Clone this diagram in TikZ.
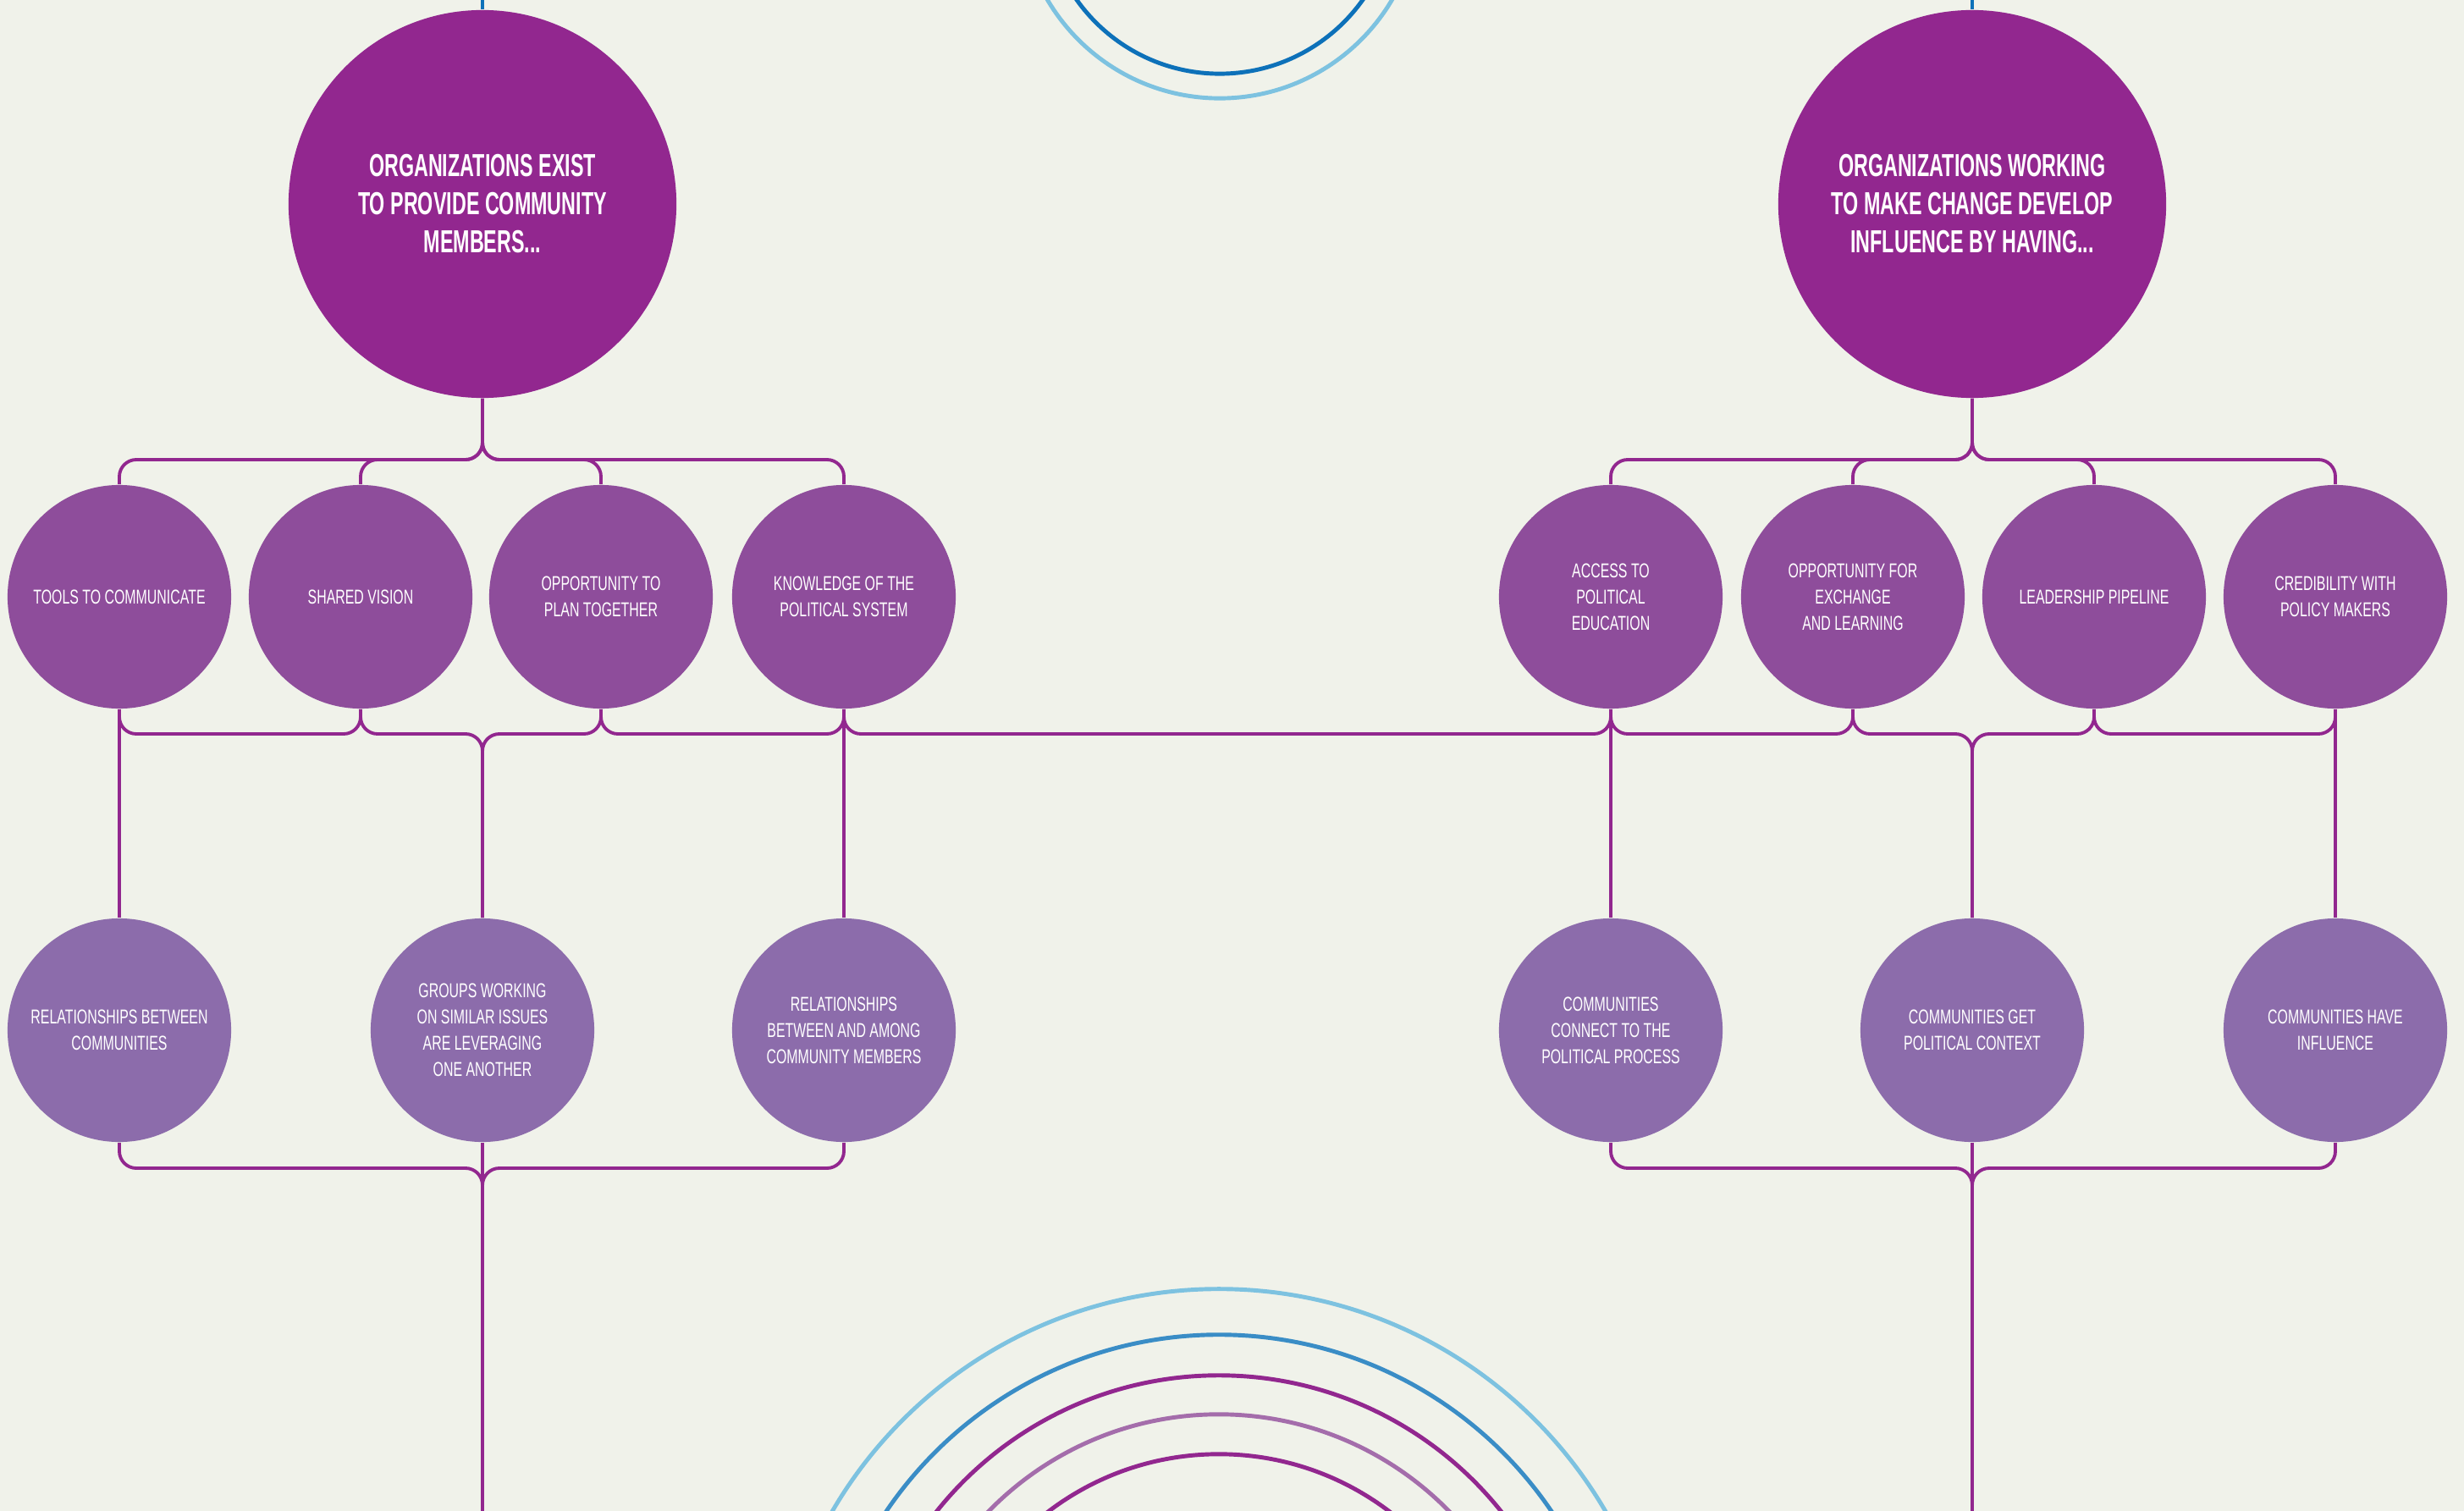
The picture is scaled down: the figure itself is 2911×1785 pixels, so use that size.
\documentclass[tikz,border=0pt]{standalone}
\usepackage{fontspec}
\setmainfont{Liberation Sans}
\newfontfamily\headfont[FakeStretch=0.62]{Liberation Sans}
\newfontfamily\itemfont[FakeStretch=0.67]{Liberation Sans}
\definecolor{paper}{HTML}{F0F2EA}
\definecolor{plum}{HTML}{92278F}
\definecolor{orchid}{HTML}{8E4D9B}
\definecolor{lavender}{HTML}{8C6CAB}
\definecolor{lilac}{HTML}{A46DAB}
\definecolor{skyblue}{HTML}{7DC2E0}
\definecolor{midblue}{HTML}{3A8DC6}
\definecolor{deepblue}{HTML}{0D71B9}
\tikzset{
	circnode/.style = {circle, align=center, inner sep=0pt, text=white},
	bignode/.style = {circnode, fill=plum, minimum size=4.58cm, 
		font=\headfont\bfseries\fontsize{10.7}{12.8}\selectfont},
	topicnode/.style = {circnode, fill=orchid, minimum size=2.64cm, 
		font=\itemfont\fontsize{6.75}{8.8}\selectfont},
	resultnode/.style = {circnode, fill=lavender, minimum size=2.64cm, 
		font=\itemfont\fontsize{6.75}{8.8}\selectfont},
	link/.style = {draw=plum, line width=1.1pt, rounded corners=0.2cm},
	ring/.style = {line width=1.4pt}
}

\begin{document}
\begin{tikzpicture}[x=0.01cm, y=-0.01cm]
\useasboundingbox (0,0) rectangle (2911,1785);
\fill[paper] (0,0) rectangle (2911,1785);
%----------------- Rings --------------
\begin{scope}
	\clip (0,0) rectangle (2911,1785);
	\draw[ring, skyblue] (1441,-120) circle [radius=2.36cm];
	\draw[ring, deepblue] (1441,-120) circle [radius=2.07cm];
	\draw[ring, skyblue] (1440,2051) circle [radius=5.28cm];
	\draw[ring, midblue] (1440,2051) circle [radius=4.74cm];
	\draw[ring, plum] (1440,2051) circle [radius=4.26cm];
	\draw[ring, lilac] (1440,2051) circle [radius=3.80cm];
	\draw[ring, plum] (1440,2051) circle [radius=3.33cm];
\end{scope}
%----------------- Nodes --------------
\node (L0) [bignode] at (570,241) {ORGANIZATIONS EXIST\\TO PROVIDE COMMUNITY\\MEMBERS...};
\node (R0) [bignode] at (2330,241) {ORGANIZATIONS WORKING\\TO MAKE CHANGE DEVELOP\\INFLUENCE BY HAVING...};

\node (A1) [topicnode] at (141,705) {TOOLS TO COMMUNICATE};
\node (A2) [topicnode] at (426,705) {SHARED VISION};
\node (A3) [topicnode] at (710,705) {OPPORTUNITY TO\\PLAN TOGETHER};
\node (A4) [topicnode] at (997,705) {KNOWLEDGE OF THE\\POLITICAL SYSTEM};
\node (C1) [topicnode] at (1903,705) {ACCESS TO\\POLITICAL\\EDUCATION};
\node (C2) [topicnode] at (2189,705) {OPPORTUNITY FOR\\EXCHANGE\\AND LEARNING};
\node (C3) [topicnode] at (2474,705) {LEADERSHIP PIPELINE};
\node (C4) [topicnode] at (2759,705) {CREDIBILITY WITH\\POLICY MAKERS};

\node (B1) [resultnode] at (141,1217) {RELATIONSHIPS BETWEEN\\COMMUNITIES};
\node (B2) [resultnode] at (570,1217) {GROUPS WORKING\\ON SIMILAR ISSUES\\ARE LEVERAGING\\ONE ANOTHER};
\node (B3) [resultnode] at (997,1217) {RELATIONSHIPS\\BETWEEN AND AMONG\\COMMUNITY MEMBERS};
\node (D1) [resultnode] at (1903,1217) {COMMUNITIES\\CONNECT TO THE\\POLITICAL PROCESS};
\node (D2) [resultnode] at (2330,1217) {COMMUNITIES GET\\POLITICAL CONTEXT};
\node (D3) [resultnode] at (2759,1217) {COMMUNITIES HAVE\\INFLUENCE};

\coordinate (bartop) at (0,543);
\coordinate (barmid) at (0,867);
\coordinate (barlow) at (0,1380);
\coordinate (Ltip) at (570,0);
\coordinate (Rtip) at (2330,0);
\coordinate (Lfoot) at (570,1785);
\coordinate (Rfoot) at (2330,1785);
%----------------- Stubs to the rings --------------
\draw[deepblue, line width=1.1pt] (Ltip) -- (L0.north);
\draw[deepblue, line width=1.1pt] (Rtip) -- (R0.north);
%----------------- Left tree --------------
\draw[link] (L0.south) |- (A1.north |- bartop) -- (A1.north);
\draw[link] (L0.south) |- (A2.north |- bartop) -- (A2.north);
\draw[link] (L0.south) |- (A3.north |- bartop) -- (A3.north);
\draw[link] (L0.south) |- (A4.north |- bartop) -- (A4.north);

\draw[link] (A1.south) |- (A2.south |- barmid) -- (A2.south);
\draw[link] (A2.south) |- (B2.north |- barmid) -- (B2.north);
\draw[link] (A3.south) |- (B2.north |- barmid) -- (B2.north);
\draw[link] (A3.south) |- (A4.south |- barmid) -- (A4.south);
\draw[link] (A1) -- (B1);
\draw[link] (A4) -- (B3);
\draw[link] (A4.south) |- (C1.south |- barmid) -- (C1.south);

\draw[link] (B1.south) |- (Lfoot |- barlow) -- (Lfoot);
\draw[link] (B3.south) |- (Lfoot |- barlow) -- (Lfoot);
\draw[link] (B2) -- (Lfoot);
%----------------- Right tree --------------
\draw[link] (R0.south) |- (C1.north |- bartop) -- (C1.north);
\draw[link] (R0.south) |- (C2.north |- bartop) -- (C2.north);
\draw[link] (R0.south) |- (C3.north |- bartop) -- (C3.north);
\draw[link] (R0.south) |- (C4.north |- bartop) -- (C4.north);

\draw[link] (C1.south) |- (C2.south |- barmid) -- (C2.south);
\draw[link] (C2.south) |- (D2.north |- barmid) -- (D2.north);
\draw[link] (C3.south) |- (D2.north |- barmid) -- (D2.north);
\draw[link] (C3.south) |- (C4.south |- barmid) -- (C4.south);
\draw[link] (C1) -- (D1);
\draw[link] (C4) -- (D3);

\draw[link] (D1.south) |- (Rfoot |- barlow) -- (Rfoot);
\draw[link] (D3.south) |- (Rfoot |- barlow) -- (Rfoot);
\draw[link] (D2) -- (Rfoot);
\end{tikzpicture}
\end{document}
